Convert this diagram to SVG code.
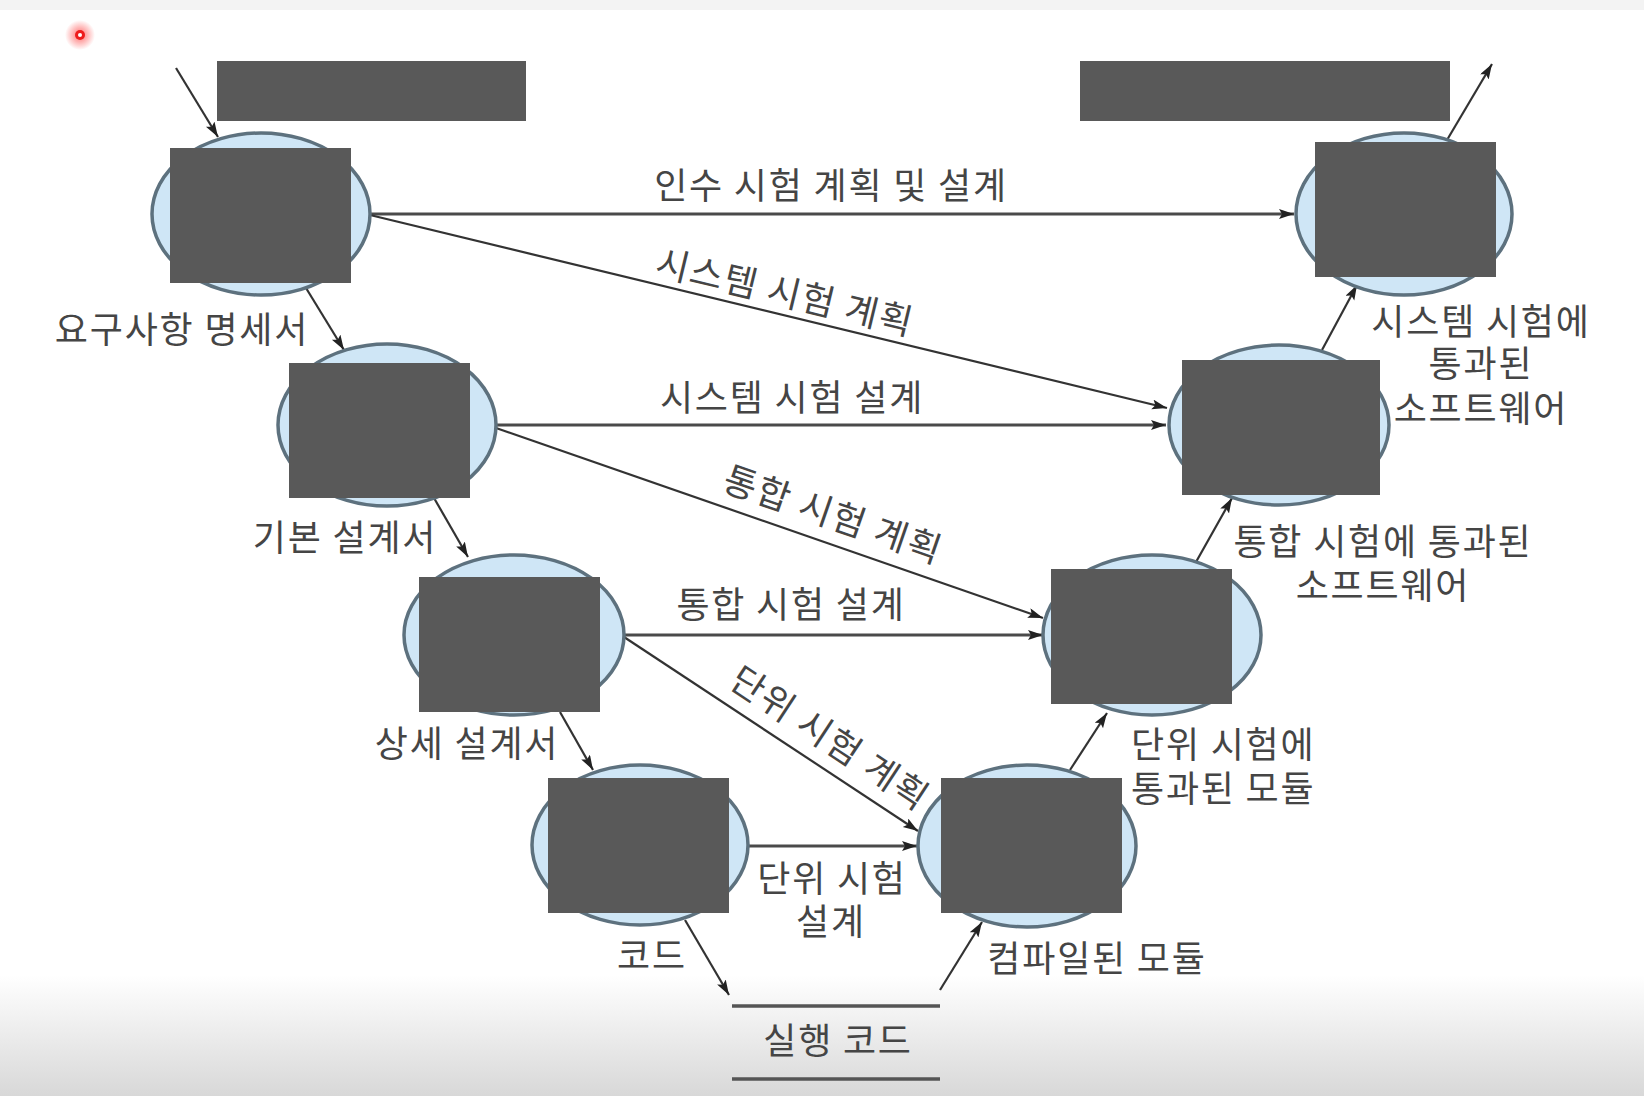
<svg xmlns="http://www.w3.org/2000/svg" width="1644" height="1096" viewBox="0 0 1644 1096">
<defs>
<style>
.node ellipse{fill:#cfe6f6;stroke:#5d717e;stroke-width:3.5}
.node rect,.mask{fill:#595959}
.c line{stroke:#333;stroke-width:2.2;fill:none;marker-end:url(#ah)}
.c line.h{stroke:#4a4a4a;stroke-width:2.8}
.t{font-family:"Noto Sans CJK KR","Noto Sans",sans-serif;font-size:36px;letter-spacing:1.8px;fill:#454545}
.m{text-anchor:middle}
</style>
<marker id="ah" markerUnits="userSpaceOnUse" markerWidth="16" markerHeight="12" refX="15" refY="5" orient="auto">
<path d="M0,0 L15,5 L0,10 L3,5 z" fill="#222"/>
</marker>
<linearGradient id="bg" x1="0" y1="0" x2="0" y2="1">
<stop offset="0" stop-color="#ffffff"/>
<stop offset="1" stop-color="#d8d8d8"/>
</linearGradient>
<radialGradient id="glow">
<stop offset="0" stop-color="#ff3030" stop-opacity="0.7"/>
<stop offset="1" stop-color="#ff3030" stop-opacity="0"/>
</radialGradient>
</defs>
<rect x="0" y="0" width="1644" height="1096" fill="#fff"/>
<rect x="0" y="0" width="1644" height="10" fill="#f3f3f3"/>
<rect x="0" y="975" width="1644" height="121" fill="url(#bg)"/>
<g id="cursor">
<circle cx="80" cy="35" r="15" fill="url(#glow)"/>
<circle cx="80" cy="35" r="5" fill="#ee1c1c"/>
<circle cx="80" cy="35" r="2" fill="#fff"/>
</g>
<g id="masks">
<rect class="mask" x="217" y="61" width="309" height="60"/>
<rect class="mask" x="1080" y="61" width="370" height="60"/>
</g>
<g id="connectors" class="c">
<line x1="176" y1="68" x2="218" y2="137"/>
<line x1="1447" y1="140" x2="1492" y2="64"/>
<line class="h" x1="370" y1="214" x2="1294" y2="214"/>
<line x1="370" y1="215" x2="1167" y2="408"/>
<line class="h" x1="496" y1="425" x2="1166" y2="425"/>
<line x1="496" y1="428" x2="1043" y2="618"/>
<line class="h" x1="624" y1="635" x2="1043" y2="635"/>
<line x1="624" y1="637" x2="918" y2="831"/>
<line class="h" x1="747" y1="846" x2="917" y2="846"/>
<line x1="306" y1="288" x2="344" y2="350"/>
<line x1="434" y1="498" x2="468" y2="557"/>
<line x1="560" y1="712" x2="593" y2="770"/>
<line x1="685" y1="920" x2="729" y2="995"/>
<line x1="940" y1="990" x2="982" y2="922"/>
<line x1="1070" y1="770" x2="1107" y2="713"/>
<line x1="1196" y1="562" x2="1232" y2="498"/>
<line x1="1322" y1="350" x2="1357" y2="285"/>
</g>
<g id="n1" class="node"><ellipse cx="261" cy="214" rx="109" ry="81"/><rect x="170" y="148" width="181" height="135"/></g>
<g id="n2" class="node"><ellipse cx="387" cy="425" rx="109" ry="81"/><rect x="289" y="363" width="181" height="135"/></g>
<g id="n3" class="node"><ellipse cx="514" cy="635" rx="110" ry="80"/><rect x="419" y="577" width="181" height="135"/></g>
<g id="n4" class="node"><ellipse cx="640" cy="845" rx="108" ry="80"/><rect x="548" y="778" width="181" height="135"/></g>
<g id="n5" class="node"><ellipse cx="1027" cy="846" rx="109" ry="81"/><rect x="941" y="778" width="181" height="135"/></g>
<g id="n6" class="node"><ellipse cx="1152" cy="635" rx="109" ry="80"/><rect x="1051" y="569" width="181" height="135"/></g>
<g id="n7" class="node"><ellipse cx="1279" cy="425" rx="110" ry="80"/><rect x="1182" y="360" width="198" height="135"/></g>
<g id="n8" class="node"><ellipse cx="1404" cy="214" rx="108" ry="81"/><rect x="1315" y="142" width="181" height="135"/></g>
<g id="exec">
<line x1="732" y1="1006" x2="940" y2="1006" stroke="#555" stroke-width="3.5"/>
<line x1="732" y1="1079" x2="940" y2="1079" stroke="#555" stroke-width="3.5"/>
<text class="t m" x="838" y="1054">실행 코드</text>
</g>
<g id="labels" class="t">
<text class="m" x="831" y="199">인수 시험 계획 및 설계</text>
<text class="m" transform="translate(782,305) rotate(13.6)">시스템 시험 계획</text>
<text class="m" x="792" y="411">시스템 시험 설계</text>
<text class="m" transform="translate(829,527) rotate(19.03)">통합 시험 계획</text>
<text class="m" x="791" y="618">통합 시험 설계</text>
<text class="m" transform="translate(823,749) rotate(33.42)">단위 시험 계획</text>
<text class="m" x="832" y="892">단위 시험</text>
<text class="m" x="831" y="935">설계</text>
<text class="m" x="182" y="343">요구사항 명세서</text>
<text class="m" x="345" y="551">기본 설계서</text>
<text class="m" x="467" y="757">상세 설계서</text>
<text class="m" x="652" y="969">코드</text>
<text class="m" x="1097" y="972">컴파일된 모듈</text>
<text x="1131" y="758">단위 시험에</text>
<text x="1131" y="802">통과된 모듈</text>
<text class="m" x="1383" y="555">통합 시험에 통과된</text>
<text class="m" x="1383" y="599">소프트웨어</text>
<text class="m" x="1481" y="335">시스템 시험에</text>
<text class="m" x="1481" y="377">통과된</text>
<text class="m" x="1481" y="422">소프트웨어</text>
</g>
</svg>
